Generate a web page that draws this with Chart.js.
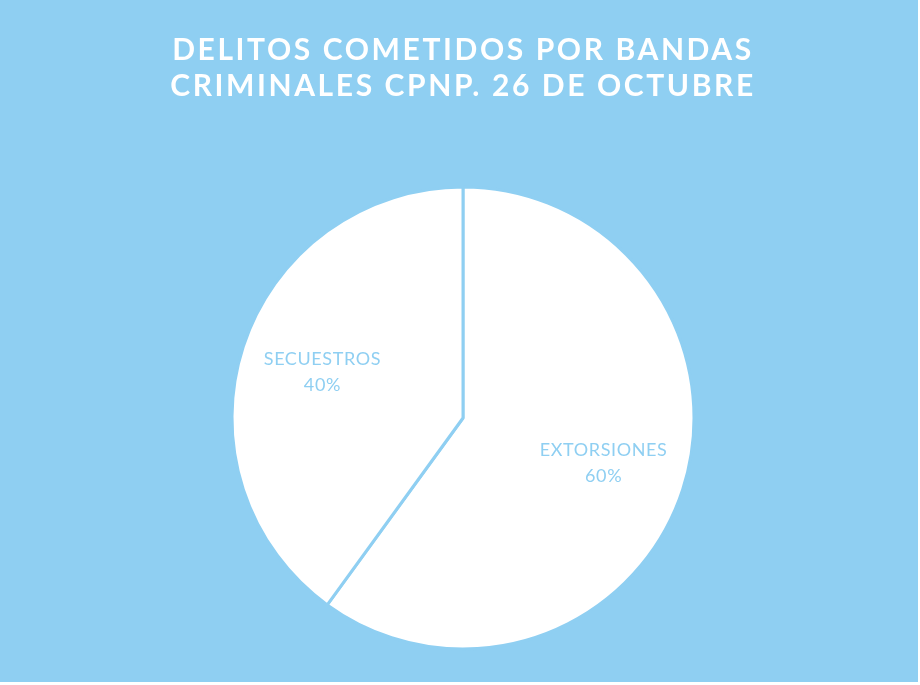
<!DOCTYPE html>
<html>
<head>
<meta charset="utf-8">
<script src="https://cdn.jsdelivr.net/npm/chart.js@4.4.1/dist/chart.umd.min.js"></script>
<style>
  body { margin: 0; background: #ffffff; }
  #wrap { width: 918px; height: 682px; background: #8fcff2; }
</style>
</head>
<body>
<div id="wrap"><canvas id="delitos-pie" width="918" height="682"></canvas></div>
<script>
const categories = ['EXTORSIONES', 'SECUESTROS'];
const porcentajes = [60, 40];
const titulo = ['DELITOS COMETIDOS POR BANDAS', 'CRIMINALES CPNP. 26 DE OCTUBRE'];

const azul = '#8fcff2';

// wider tracking for the title, the reference font is spaced out
const titleSpacing = {
    id: 'titleSpacing',
    beforeDraw(chart) { chart.ctx.letterSpacing = '2.6px'; },
    afterDraw(chart) { chart.ctx.letterSpacing = '0px'; },
    beforeDatasetsDraw(chart) { chart.ctx.letterSpacing = '0px'; }
};

// draws "NAME\nXX%" inside each slice, like Excel's data labels
const sliceLabels = {
    id: 'sliceLabels',
    afterDatasetsDraw(chart) {
        const ctx = chart.ctx;
        const meta = chart.getDatasetMeta(0);
        ctx.save();
        ctx.letterSpacing = '0.6px';
        ctx.fillStyle = azul;
        ctx.font = '18px Lato';
        ctx.textAlign = 'center';
        ctx.textBaseline = 'middle';
        meta.data.forEach((arc, i) => {
            const mid = (arc.startAngle + arc.endAngle) / 2;
            const r = arc.outerRadius * 0.64;
            const x = arc.x + Math.cos(mid) * r;
            const y = arc.y + Math.sin(mid) * r;
            ctx.fillText(categories[i], x, y - 13);
            ctx.fillText(porcentajes[i] + '%', x, y + 13);
        });
        ctx.restore();
    }
};

const ctx = document.getElementById('delitos-pie').getContext('2d');
new Chart(ctx, {
    type: 'pie',
    data: {
        labels: categories,
        datasets: [{
            data: porcentajes,
            backgroundColor: '#ffffff',
            borderColor: azul,
            borderWidth: 3
        }]
    },
    options: {
        responsive: false,
        animation: false,
        radius: 231,
        layout: { padding: { top: 0, bottom: 16, left: 8 } },
        plugins: {
            legend: { display: false },
            tooltip: { enabled: false },
            title: {
                display: true,
                text: titulo,
                color: '#ffffff',
                font: { family: 'Lato', size: 30, weight: 'bold' },
                lineHeight: 1.55,
                padding: { top: 32, bottom: 66 }
            }
        }
    },
    plugins: [titleSpacing, sliceLabels]
});
</script>
</body>
</html>
